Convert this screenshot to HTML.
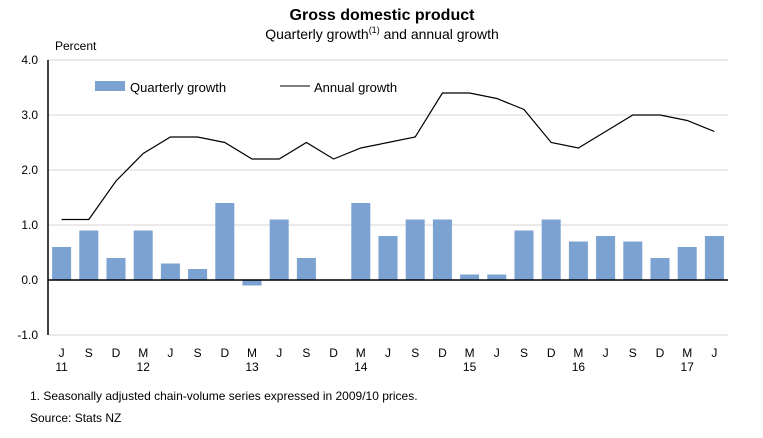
<!DOCTYPE html>
<html><head><meta charset="utf-8"><style>
body{margin:0;background:#fff;font-family:"Liberation Sans",Arial,sans-serif;}
svg text{font-family:"Liberation Sans",Arial,sans-serif;fill:#000;}
</style></head><body>
<svg id="chart" width="763" height="433" viewBox="0 0 763 433">
<text x="382" y="20" font-size="16" font-weight="bold" text-anchor="middle">Gross domestic product</text>
<text x="382" y="39" font-size="14" text-anchor="middle">Quarterly growth<tspan font-size="9" dy="-6">(1)</tspan><tspan dy="6"> and annual growth</tspan></text>
<text x="55" y="50" font-size="12">Percent</text>
<g id="grid"></g>
<g id="bars"></g>
<g id="line"></g>
<g id="axes"></g>
<g>
<rect x="95" y="81" width="30" height="10" fill="#7ba2d0"/>
<text x="130" y="92" font-size="13">Quarterly growth</text>
<line x1="280" y1="86" x2="310" y2="86" stroke="#000" stroke-width="1"/>
<text x="314" y="92" font-size="13">Annual growth</text>
</g>
<text x="30" y="400" font-size="12">1.  Seasonally adjusted chain-volume series expressed in 2009/10 prices.</text>
<text x="30" y="422" font-size="12">Source: Stats NZ</text>
</svg>
<script>
const categories=["J","S","D","M","J","S","D","M","J","S","D","M","J","S","D","M","J","S","D","M","J","S","D","M","J"];
const yearLabels=["11","","","12","","","","13","","","","14","","","","15","","","","16","","","","17",""];
const quarterly=[0.6,0.9,0.4,0.9,0.3,0.2,1.4,-0.1,1.1,0.4,0,1.4,0.8,1.1,1.1,0.1,0.1,0.9,1.1,0.7,0.8,0.7,0.4,0.6,0.8];
const annual=[1.1,1.1,1.8,2.3,2.6,2.6,2.5,2.2,2.2,2.5,2.2,2.4,2.5,2.6,3.4,3.4,3.3,3.1,2.5,2.4,2.7,3.0,3.0,2.9,2.7];
const yTicks=[-1,0,1,2,3,4];
const yTickLabels=["-1.0","0.0","1.0","2.0","3.0","4.0"];
const NS="http://www.w3.org/2000/svg";
const L=48,R=728,T=60,B=335,yMin=-1,yMax=4;
const bw=(R-L)/categories.length;
const x=i=>L+bw*(i+0.5);
const y=v=>B-(v-yMin)/(yMax-yMin)*(B-T);
function mk(tag,attrs,parent){const e=document.createElementNS(NS,tag);for(const k in attrs)e.setAttribute(k,attrs[k]);document.getElementById(parent).appendChild(e);return e;}
yTicks.forEach((t,i)=>{
 if(t!==0){const g=mk('line',{x1:L,x2:R,y1:y(t),y2:y(t),stroke:'#d9d0d9','stroke-width':1},'grid');
 
 }
 const tx=mk('text',{x:38,y:y(t)+4,'font-size':12,'text-anchor':'end'},'axes');tx.textContent=yTickLabels[i];
 
 
});
quarterly.forEach((v,i)=>{
 const r=mk('rect',{x:x(i)-9.5,width:19,y:Math.min(y(v),y(0)),height:Math.abs(y(v)-y(0)),fill:'#7ba2d0'},'bars');
 
 
});
const p=mk('polyline',{points:annual.map((v,i)=>x(i)+','+y(v)).join(' '),fill:'none',stroke:'#000','stroke-width':1.2},'line');


const ax=mk('line',{x1:L,x2:L,y1:T,y2:B,stroke:'#000','stroke-width':1.5},'axes');


const zl=mk('line',{x1:L,x2:R,y1:y(0),y2:y(0),stroke:'#000','stroke-width':1.5},'axes');


categories.forEach((c,i)=>{
 const t=mk('text',{x:x(i),y:357,'font-size':12,'text-anchor':'middle'},'axes');t.textContent=c;
 
 
 if(yearLabels[i]){const t2=mk('text',{x:x(i),y:371,'font-size':12,'text-anchor':'middle'},'axes');t2.textContent=yearLabels[i];
 
 }
});
</script>
</body></html>
